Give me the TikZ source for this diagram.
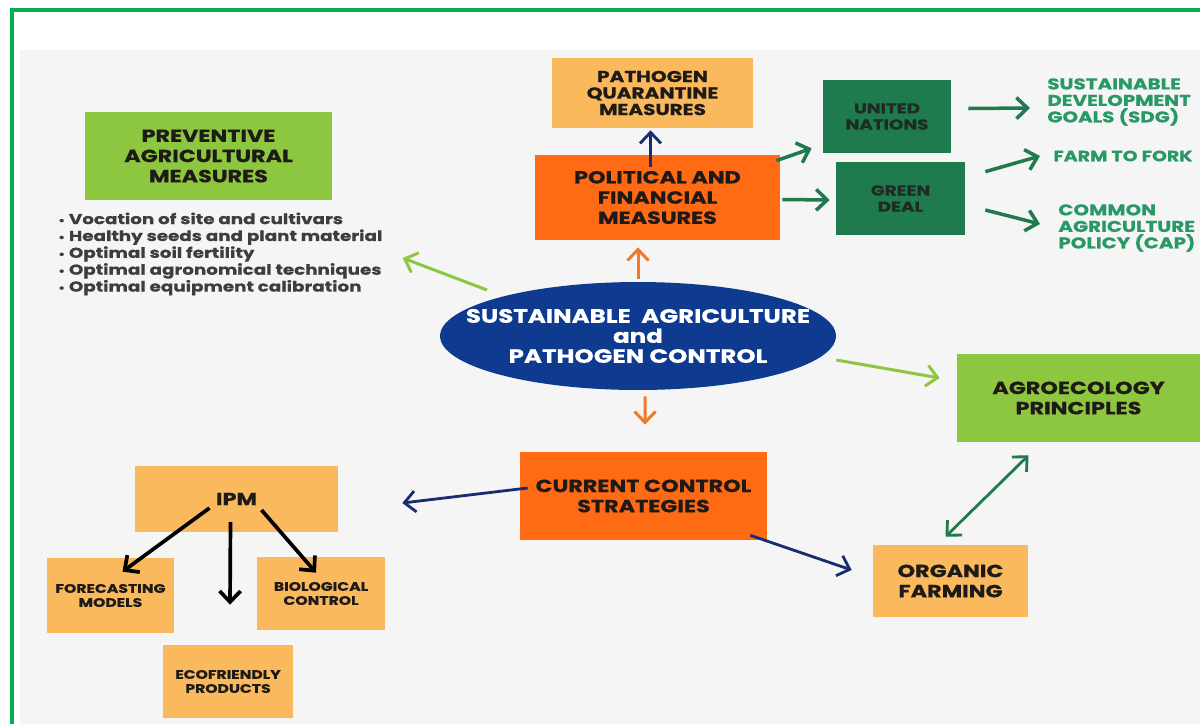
\documentclass[tikz,border=0pt]{standalone}
\usepackage{fontspec}
\setmainfont{Poppins}[FakeStretch=1.27,BoldFeatures={FakeBold=0.6}]
\usetikzlibrary{calc,arrows.meta,shapes.geometric}
\definecolor{framegreen}{RGB}{0,176,80}
\definecolor{bggray}{RGB}{245,245,245}
\definecolor{leafgreen}{RGB}{141,198,63}
\definecolor{hotorange}{RGB}{255,106,20}
\definecolor{paleorange}{RGB}{249,185,92}
\definecolor{forest}{RGB}{31,122,77}
\definecolor{navy}{RGB}{14,59,143}
\definecolor{arrnavy}{RGB}{24,44,112}
\definecolor{arrorange}{RGB}{240,122,42}
\definecolor{txtgreen}{RGB}{40,152,100}
\definecolor{txt}{RGB}{30,26,24}
\newcommand{\bul}{{\fontsize{6}{6}\selectfont\textbullet}\ }
\begin{document}
\begin{tikzpicture}[x=0.02cm,y=-0.02cm,
  box/.style={rectangle,inner sep=2pt,align=center,text=txt,font=\bfseries\fontsize{10}{11.5}\selectfont},
  small/.style={box,font=\bfseries\fontsize{7}{8}\selectfont},
  greenbox/.style={box,fill=leafgreen},
  orangebox/.style={box,fill=hotorange},
  palebox/.style={box,fill=paleorange},
  forestbox/.style={box,fill=forest,font=\bfseries\fontsize{8.2}{9.2}\selectfont,text=txt!80!forest},
  goal/.style={anchor=west,align=left,inner sep=0pt,text=txtgreen,font=\bfseries\fontsize{8.9}{9.4}\selectfont},
  tip/.style={-{Straight Barb[length=2.2mm,width=4.2mm]}},
  lgarrow/.style={tip,leafgreen,line width=1.7pt},
  oarrow/.style={tip,arrorange,line width=1.7pt},
  narrow/.style={tip,arrnavy,line width=1.6pt},
  garrow/.style={tip,forest,line width=2pt},
  karrow/.style={tip,black,line width=2.1pt}]
\useasboundingbox (0,0) rectangle (1200,724);
\fill[bggray] (20,50) rectangle (1200,724);
\draw[framegreen,line width=2pt] (12,724) -- (12,10) -- (1200,10);

\node[greenbox,minimum width=4.94cm,minimum height=1.76cm] (prev) at (208.5,156) {PREVENTIVE\\AGRICULTURAL\\MEASURES};
\node[anchor=west,align=left,inner sep=0pt,text=txt!85,font=\bfseries\fontsize{8.2}{9.6}\selectfont] (list) at (58,254)
  {\bul Vocation of site and cultivars\\ \bul Healthy seeds and plant material\\ \bul Optimal soil fertility\\ \bul Optimal agronomical techniques\\ \bul Optimal equipment calibration};
\node[palebox,minimum width=4.02cm,minimum height=1.4cm,font=\bfseries\fontsize{9}{9.4}\selectfont] (quar) at (652.5,93) {PATHOGEN\\QUARANTINE\\MEASURES};
\node[orangebox,minimum width=4.9cm,minimum height=1.7cm] (pol) at (657.5,197.5) {POLITICAL AND\\FINANCIAL\\MEASURES};
\node[forestbox,minimum width=2.56cm,minimum height=1.46cm] (un) at (887,116.5) {UNITED\\NATIONS};
\node[forestbox,minimum width=2.58cm,minimum height=1.46cm] (gd) at (900.5,198.5) {GREEN\\DEAL};
\node[goal] (sdg) at (1047,102) {SUSTAINABLE\\DEVELOPMENT\\GOALS (SDG)};
\node[goal,font=\bfseries\fontsize{8.5}{9.4}\selectfont] (ftf) at (1053,156) {FARM TO FORK};
\node[goal] (cap) at (1058,228) {COMMON\\AGRICULTURE\\POLICY (CAP)};
\node[ellipse,fill=navy,minimum width=7.92cm,minimum height=2.16cm,inner sep=0pt] (ell) at (638,336) {};
\node[box,text=white,font=\bfseries\fontsize{11}{11.4}\selectfont] (ellt) at (ell) {SUSTAINABLE\ \ AGRICULTURE\\and\\PATHOGEN CONTROL};
\node[greenbox,minimum width=4.86cm,minimum height=1.76cm] (agro) at (1078.5,398) {AGROECOLOGY\\PRINCIPLES};
\node[orangebox,minimum width=4.94cm,minimum height=1.76cm] (cur) at (643.5,496) {CURRENT CONTROL\\STRATEGIES};
\node[palebox,minimum width=3.1cm,minimum height=1.44cm] (org) at (950.5,581) {ORGANIC\\FARMING};
\node[palebox,minimum width=4.06cm,minimum height=1.32cm] (ipm) at (236.5,499) {IPM};
\node[small,fill=paleorange,minimum width=2.54cm,minimum height=1.5cm] (fore) at (110.5,595.5) {FORECASTING\\MODELS};
\node[small,fill=paleorange,minimum width=2.56cm,minimum height=1.46cm] (bio) at (321,593.5) {BIOLOGICAL\\CONTROL};
\node[small,fill=paleorange,minimum width=2.6cm,minimum height=1.46cm] (eco) at (228,681.5) {ECOFRIENDLY\\PRODUCTS};

\draw[lgarrow] ($(ell)+(-151,-46)$) -- ($(list.east)+(20,4)$);
\draw[oarrow] ($(ell.north)+(0,-3)$) -- ($(ell.north|-pol.south)+(0,7)$);
\draw[narrow] ($(quar.south|-pol.north)+(-2,12)$) -- ($(quar.south)+(-2,2)$);
\draw[garrow] ($(pol.north east)+(-4,6)$) -- ($(un.south west)+(-11,-5)$);
\draw[garrow] ($(pol.east)+(2,2)$) -- ($(gd.west)+(-6,1.5)$);
\draw[garrow] ($(un.east)+(17,-8)$) -- ($(sdg.west)+(-17,6)$);
\draw[garrow] ($(gd.north east)+(20,10)$) -- ($(ftf.west)+(-13,0)$);
\draw[garrow] ($(gd.east)+(20,11.5)$) -- ($(cap.west)+(-18,-4)$);
\draw[lgarrow] ($(ell.east)+(0,24)$) -- ($(agro.west)+(-17,-20)$);
\draw[oarrow] ($(ell.south)+(7,6)$) -- ($(cur.north)+(1.5,-27)$);
\draw[narrow] ($(cur.west)+(8,-8)$) -- ($(ipm.east)+(64,4)$);
\draw[narrow] ($(cur.south east)+(-17,-5)$) -- ($(org.west)+(-21,-11)$);
\draw[garrow,{Straight Barb[length=2.2mm,width=4.2mm]}-{Straight Barb[length=2.2mm,width=4.2mm]},line width=1.6pt] ($(org.north)+(-5,-8)$) -- ($(agro.south)+(-50,13)$);
\draw[karrow] ($(ipm.center)+(-27,9)$) -- ($(fore.north)+(12,14)$);
\draw[karrow] ($(ipm.center)+(-6,23)$) -- ($(eco.north)+(2,-40)$);
\draw[karrow] ($(ipm.center)+(25,11)$) -- ($(bio.north)+(-5,16)$);
\end{tikzpicture}
\end{document}
